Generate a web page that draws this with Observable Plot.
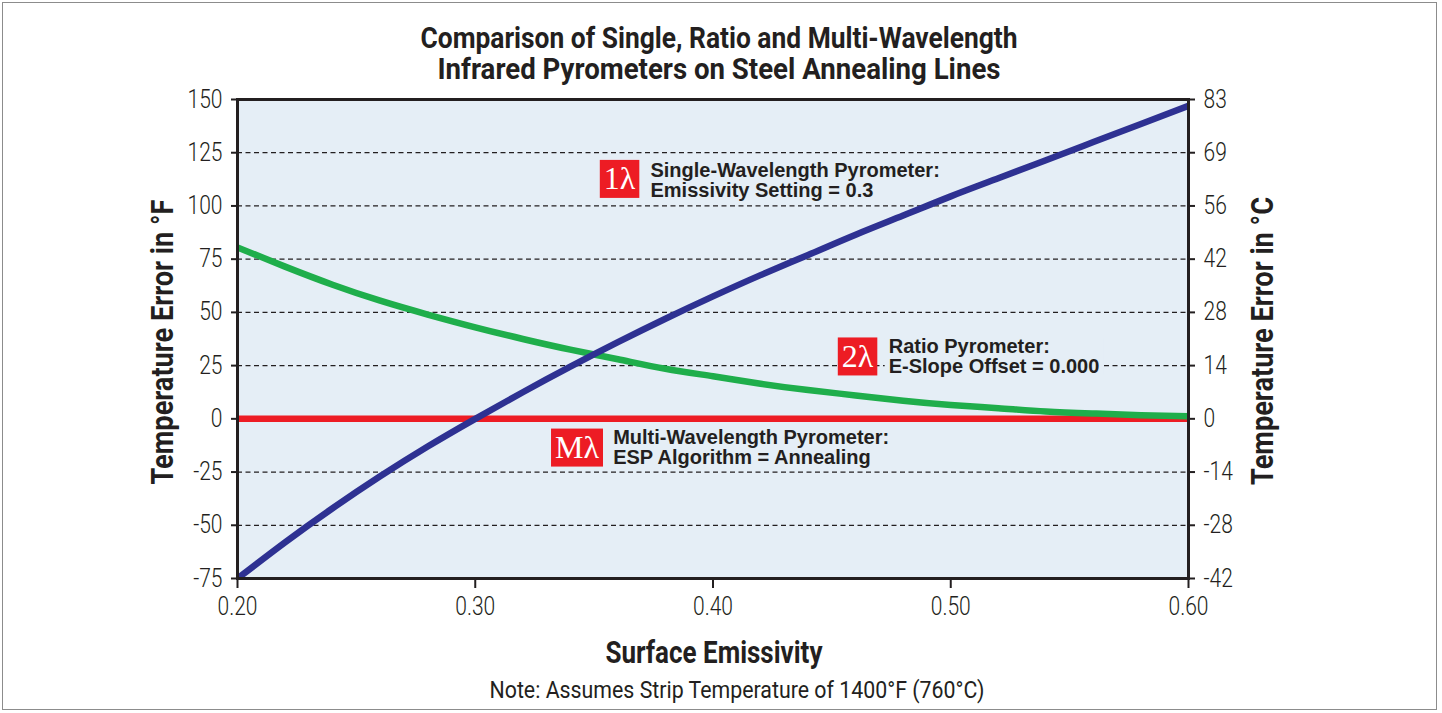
<!DOCTYPE html>
<html>
<head>
<meta charset="utf-8">
<script src="https://cdn.jsdelivr.net/npm/d3@7"></script>
<script src="https://cdn.jsdelivr.net/npm/@observablehq/plot@0.6"></script>
<style>
  body { margin: 0; background: #fff; }
  #wrap { position: relative; width: 1442px; height: 713px; overflow: hidden;
          font-family: Roboto, sans-serif; color: #231f20; }
  #border { position: absolute; left: 2px; top: 2px; width: 1433px; height: 706px; border: 1.5px solid #8c8c8c; }
  #chart { position: absolute; left: 0; top: 0; }
  .t { position: absolute; white-space: nowrap; left: 0; top: 0; line-height: 1; }
  .b { font-weight: 700; }
</style>
</head>
<body>
<div id="wrap">
  <div id="border"></div>
  <div id="chart"></div>
  <div class="t b" id="title1">Comparison of Single, Ratio and Multi-Wavelength</div>
  <div class="t b" id="title2">Infrared Pyrometers on Steel Annealing Lines</div>
  <div class="t b" id="ylabL">Temperature Error in °F</div>
  <div class="t b" id="ylabR">Temperature Error in °C</div>
  <div class="t b" id="xlab">Surface Emissivity</div>
  <div class="t" id="note">Note: Assumes Strip Temperature of 1400°F (760°C)</div>
</div>
<script>
// ---- data ----
const emissivity = [0.20,0.22,0.24,0.26,0.28,0.30,0.32,0.34,0.36,0.38,0.40,0.42,0.44,0.46,0.48,0.50,0.52,0.54,0.56,0.58,0.60];
const singleF    = [-75,-58,-42,-27,-13,0,12.5,24.5,36,47,57.5,67.5,77,86.5,95.5,104.5,113,121.5,130,138.5,147];
const ratioF     = [80.5,71.5,63,55.5,49,43,37.5,32.5,28,23.5,20,16.5,13.5,11,8.5,6.5,5,3.5,2.5,1.7,1.2];
const multiF     = [0,0,0,0,0,0,0,0,0,0,0,0,0,0,0,0,0,0,0,0,0];

const xTicks = [0.20,0.30,0.40,0.50,0.60];
const yTicksF = [-75,-50,-25,0,25,50,75,100,125,150];
const yTickLabelsC = ["-42","-28","-14","0","14","28","42","56","69","83"];
const gridF = [-50,-25,0,25,50,75,100,125];

const badgeText = ["1λ","2λ","Mλ"];
const badgeX = [0.3607,0.4608,0.3428];
const badgeY = [112.7,29.3,-13.5];
const labelText = ["Single-Wavelength Pyrometer:\nEmissivity Setting = 0.3",
                   "Ratio Pyrometer:\nE-Slope Offset = 0.000",
                   "Multi-Wavelength Pyrometer:\nESP Algorithm = Annealing"];
const labelX = [0.3737,0.4739,0.358];
const labelY = [111.8,29.1,-13.6];

// ---- tables ----
const series = {single: singleF, ratio: ratioF, multi: multiF};
const rows = k => emissivity.map((e, i) => ({e, v: series[k][i]}));
const badges = badgeText.map((t, i) => ({t, x: badgeX[i], y: badgeY[i]}));
const labels = labelText.map((t, i) => ({t, x: labelX[i], y: labelY[i]}));
const cMap = new Map(yTicksF.map((t, i) => [t, yTickLabelsC[i]]));

const dark = "#231f20";
const plotBg = "#e5eef6";
const tickFont = "Roboto";
const labelSize = 20;
const labelFont = `bold ${labelSize}px 'Liberation Sans'`;
const measureCtx = document.createElement("canvas").getContext("2d");
const svgNS = "http://www.w3.org/2000/svg";

// horizontally condense text (to imitate a condensed face)
function condense(factor, font) {
  return (index, scales, values, dims, ctx, next) => {
    const g = next(index, scales, values, dims, ctx);
    measureCtx.font = font;
    g.querySelectorAll("text").forEach(t => {
      const w = measureCtx.measureText(t.textContent).width;
      t.setAttribute("textLength", (w * factor).toFixed(2));
      t.setAttribute("lengthAdjust", "spacingAndGlyphs");
    });
    return g;
  };
}

function makeRect(x, y, w, h, fill) {
  const r = document.createElementNS(svgNS, "rect");
  r.setAttribute("x", x); r.setAttribute("y", y);
  r.setAttribute("width", w); r.setAttribute("height", h);
  r.setAttribute("fill", fill);
  return r;
}

// red boxes behind badge texts
function badgeBoxes(index, scales, values, dims, ctx, next) {
  const g = next(index, scales, values, dims, ctx);
  measureCtx.font = "32px 'Liberation Serif'";
  const first = g.firstChild;
  for (const i of index) {
    const w = measureCtx.measureText(badges[i].t).width + 8;
    g.insertBefore(makeRect(values.x[i] - w / 2, values.y[i] - 19, w, 38, "#ed1c24"), first);
  }
  return g;
}

// plot-coloured backings for the label blocks (mask the dashed grid only); texts removed
function labelBacks(index, scales, values, dims, ctx, next) {
  const g = next(index, scales, values, dims, ctx);
  g.querySelectorAll("text").forEach(t => t.remove());
  measureCtx.font = labelFont;
  for (const i of index) {
    const w = Math.max(...labels[i].t.split("\n").map(s => measureCtx.measureText(s).width));
    g.append(makeRect(values.x[i] - 4, values.y[i] - 18, w + 8, 36, plotBg));
  }
  return g;
}

const tickText = {fontFamily: tickFont, fontWeight: 300, fontSize: 25, fill: dark,
  render: condense(0.84, "300 25px Roboto")};

const plot = Plot.plot({
  width: 1442, height: 713,
  marginLeft: 237, marginRight: 254, marginTop: 99, marginBottom: 135,
  style: {fontFamily: tickFont, fontSize: "25px", color: dark, background: "transparent", overflow: "visible"},
  x: {domain: [0.2, 0.6], axis: null},
  y: {domain: [-75, 150], axis: null},
  marks: [
    Plot.frame({fill: plotBg, stroke: "none"}),
    Plot.ruleY(gridF, {stroke: dark, strokeWidth: 1.3, strokeDasharray: "5,3.5"}),
    Plot.text(labels, {x: "x", y: "y", text: "t", render: labelBacks}),
    Plot.line(rows("multi"), {x: "e", y: "v", stroke: "#ed1c24", strokeWidth: 6.5, clip: true}),
    Plot.line(rows("ratio"), {x: "e", y: "v", stroke: "#1fae4b", strokeWidth: 6.5, curve: "natural", clip: true}),
    Plot.line(rows("single"), {x: "e", y: "v", stroke: "#2e3192", strokeWidth: 6.5, curve: "natural", clip: true}),
    Plot.frame({stroke: dark, strokeWidth: 3}),
    // tick marks
    Plot.axisX(xTicks, {anchor: "bottom", tickSize: 10, strokeWidth: 2, tickFormat: () => "", label: null}),
    Plot.axisY(yTicksF, {anchor: "left", tickSize: 6, strokeWidth: 2, tickFormat: () => "", label: null}),
    Plot.axisY(yTicksF, {anchor: "right", tickSize: 6, strokeWidth: 2, tickFormat: () => "", label: null}),
    // tick labels
    Plot.text(xTicks, {x: d => d, frameAnchor: "bottom", dy: 19, lineAnchor: "top", textAnchor: "middle",
      text: d => d.toFixed(2), ...tickText}),
    Plot.text(yTicksF, {y: d => d, frameAnchor: "left", dx: -15, textAnchor: "end",
      text: d => String(d), ...tickText}),
    Plot.text(yTicksF, {y: d => d, frameAnchor: "right", dx: 15, textAnchor: "start",
      text: d => cMap.get(d), ...tickText}),
    // annotations
    Plot.text(labels, {x: "x", y: "y", text: "t", fill: dark, fontFamily: "'Liberation Sans', Arial, sans-serif",
      fontWeight: "bold", fontSize: labelSize, textAnchor: "start", lineAnchor: "middle", lineHeight: 1.0}),
    Plot.text(badges, {x: "x", y: "y", text: "t", fill: "white", fontFamily: "'Liberation Serif', serif",
      fontSize: 32, textAnchor: "middle", lineAnchor: "middle", render: badgeBoxes})
  ]
});
document.getElementById("chart").append(plot);

// place and condense the HTML texts: centre (cx, cy), target width, font size, rotation
function place(id, cx, cy, width, size, rot) {
  const el = document.getElementById(id);
  el.style.fontSize = size + "px";
  const natural = el.getBoundingClientRect().width;
  const k = width / natural;
  el.style.left = cx + "px";
  el.style.top = cy + "px";
  el.style.transform = `translate(-50%, -50%)${rot ? " rotate(-90deg)" : ""} scaleX(${k.toFixed(4)})`;
}
place("title1", 718.5, 38, 597, 29, false);
place("title2", 718.5, 69, 563, 29, false);
place("ylabL", 162, 342, 285, 31, true);
place("ylabR", 1262, 341, 288, 31, true);
place("xlab", 714, 652, 217, 31, false);
place("note", 737, 690, 495, 24, false);
</script>
</body>
</html>
